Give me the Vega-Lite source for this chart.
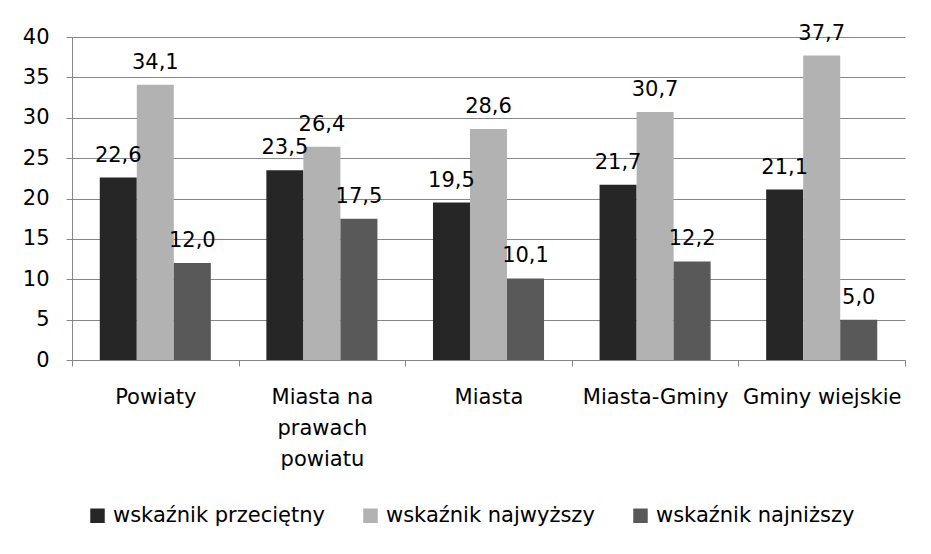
{
  "$schema": "https://vega.github.io/schema/vega-lite/v6.json",
  "width": 833,
  "height": 323,
  "autosize": {"type": "none"},
  "padding": {"left": 72, "top": 37, "right": 26, "bottom": 194},
  "background": "white",
  "config": {
    "font": "DejaVu Sans",
    "view": {"stroke": null},
    "locale": {"number": {"decimal": ",", "thousands": " ", "grouping": [3], "currency": ["", " zł"]}},
    "axis": {"labelFont": "DejaVu Sans", "labelFontSize": 21, "labelColor": "#000000", "domainColor": "#868686", "tickColor": "#868686", "gridColor": "#868686", "title": null}
  },
  "data": {
    "values": [
      {"kategoria": "Powiaty", "seria": "wskaźnik przeciętny", "wartosc": 22.6},
      {"kategoria": "Powiaty", "seria": "wskaźnik najwyższy", "wartosc": 34.1},
      {"kategoria": "Powiaty", "seria": "wskaźnik najniższy", "wartosc": 12.0},
      {"kategoria": "Miasta na prawach powiatu", "seria": "wskaźnik przeciętny", "wartosc": 23.5},
      {"kategoria": "Miasta na prawach powiatu", "seria": "wskaźnik najwyższy", "wartosc": 26.4},
      {"kategoria": "Miasta na prawach powiatu", "seria": "wskaźnik najniższy", "wartosc": 17.5},
      {"kategoria": "Miasta", "seria": "wskaźnik przeciętny", "wartosc": 19.5},
      {"kategoria": "Miasta", "seria": "wskaźnik najwyższy", "wartosc": 28.6},
      {"kategoria": "Miasta", "seria": "wskaźnik najniższy", "wartosc": 10.1},
      {"kategoria": "Miasta-Gminy", "seria": "wskaźnik przeciętny", "wartosc": 21.7},
      {"kategoria": "Miasta-Gminy", "seria": "wskaźnik najwyższy", "wartosc": 30.7},
      {"kategoria": "Miasta-Gminy", "seria": "wskaźnik najniższy", "wartosc": 12.2},
      {"kategoria": "Gminy wiejskie", "seria": "wskaźnik przeciętny", "wartosc": 21.1},
      {"kategoria": "Gminy wiejskie", "seria": "wskaźnik najwyższy", "wartosc": 37.7},
      {"kategoria": "Gminy wiejskie", "seria": "wskaźnik najniższy", "wartosc": 5.0}
    ]
  },
  "encoding": {
    "x": {
      "field": "kategoria", "type": "nominal",
      "sort": ["Powiaty", "Miasta na prawach powiatu", "Miasta", "Miasta-Gminy", "Gminy wiejskie"],
      "scale": {"paddingInner": 0, "paddingOuter": 0},
      "axis": {"labelAngle": 0, "tickBand": "extent", "tickSize": 6, "labelPadding": 20, "labelLineHeight": 31, "labelBaseline": "top", "labelLimit": 0,
        "labelExpr": "datum.value == 'Miasta na prawach powiatu' ? ['Miasta na', 'prawach', 'powiatu'] : datum.value"}
    },
    "xOffset": {
      "field": "seria", "type": "nominal",
      "sort": ["wskaźnik przeciętny", "wskaźnik najwyższy", "wskaźnik najniższy"],
      "scale": {"paddingInner": 0, "paddingOuter": 0.75}
    },
    "y": {
      "field": "wartosc", "type": "quantitative",
      "scale": {"domain": [0, 40]},
      "axis": {"values": [0, 5, 10, 15, 20, 25, 30, 35, 40], "tickSize": 6, "labelPadding": 17, "grid": true, "domain": true}
    }
  },
  "layer": [
    {
      "mark": {"type": "bar"},
      "encoding": {
        "color": {
          "field": "seria", "type": "nominal",
          "sort": ["wskaźnik przeciętny", "wskaźnik najwyższy", "wskaźnik najniższy"],
          "scale": {"domain": ["wskaźnik przeciętny", "wskaźnik najwyższy", "wskaźnik najniższy"], "range": ["#262626", "#b2b2b2", "#595959"]},
          "legend": {"title": null, "orient": "none", "direction": "horizontal", "legendX": 15, "legendY": 468,
            "symbolType": "square", "symbolSize": 210, "symbolStrokeWidth": 0, "labelFontSize": 21, "labelFont": "DejaVu Sans", "labelColor": "#000000", "columnPadding": 35, "labelOffset": 5, "labelLimit": 0}
        }
      }
    },
    {
      "mark": {"type": "text", "baseline": "alphabetic", "dy": -16, "fontSize": 21, "font": "DejaVu Sans", "color": "#000000"},
      "encoding": {
        "text": {"field": "wartosc", "type": "quantitative", "format": ".1f"}
      }
    }
  ]
}
